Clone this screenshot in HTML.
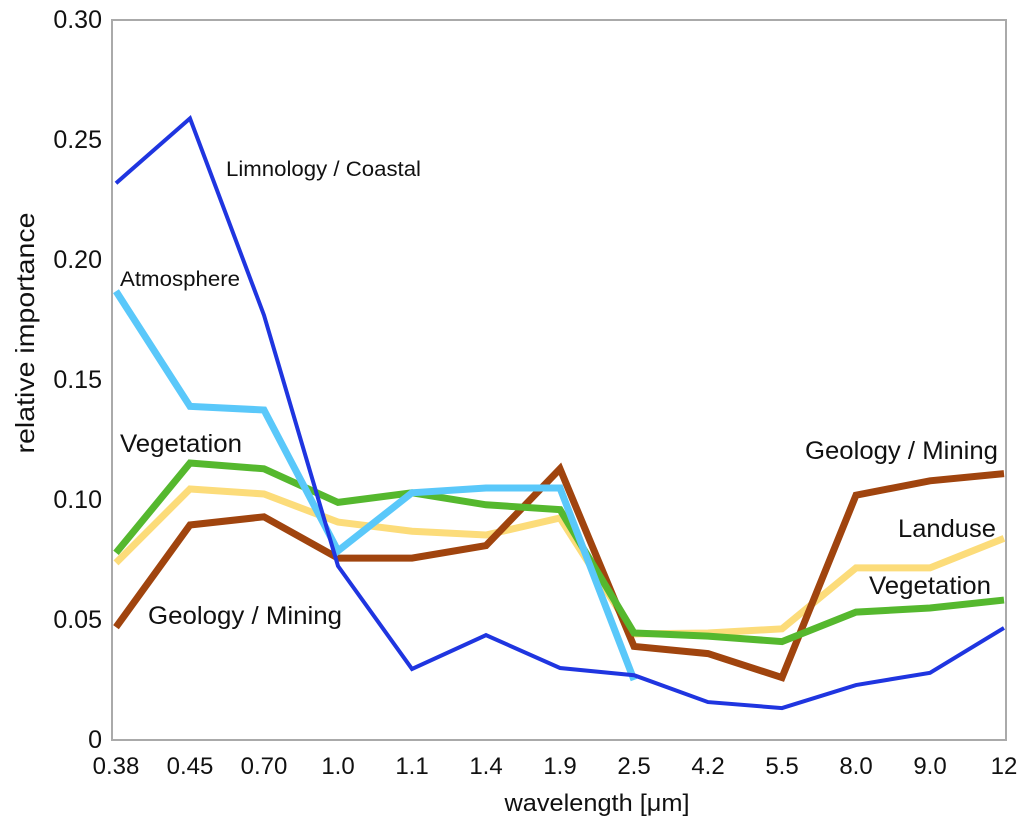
<!DOCTYPE html>
<html><head><meta charset="utf-8"><style>
body{margin:0;background:#fff}
svg text{font-family:"Liberation Sans",sans-serif;fill:#111}
</style></head><body>
<svg id="c" width="1024" height="827" xmlns="http://www.w3.org/2000/svg">
<rect x="112" y="20" width="894" height="720" fill="none" stroke="#aaa" stroke-width="2"/>
<g id="yt"></g>
<g id="xt"></g>
<g id="lines"></g>
<text x="34" y="333" font-size="26" text-anchor="middle" textLength="241" lengthAdjust="spacingAndGlyphs" transform="rotate(-90 34 333)">relative importance</text>
<text x="597" y="811" font-size="24" text-anchor="middle" textLength="185" lengthAdjust="spacingAndGlyphs">wavelength [μm]</text>
<text x="226" y="176" font-size="21" textLength="195" lengthAdjust="spacingAndGlyphs">Limnology / Coastal</text>
<text x="120" y="286" font-size="21" textLength="120" lengthAdjust="spacingAndGlyphs">Atmosphere</text>
<text x="120" y="452" font-size="25" textLength="122" lengthAdjust="spacingAndGlyphs">Vegetation</text>
<text x="148" y="624" font-size="25" textLength="194" lengthAdjust="spacingAndGlyphs">Geology / Mining</text>
<text x="805" y="459" font-size="25" textLength="193" lengthAdjust="spacingAndGlyphs">Geology / Mining</text>
<text x="898" y="537" font-size="25" textLength="98" lengthAdjust="spacingAndGlyphs">Landuse</text>
<text x="869" y="594" font-size="25" textLength="122" lengthAdjust="spacingAndGlyphs">Vegetation</text>
</svg>
<script>
const categories=["0.38","0.45","0.70","1.0","1.1","1.4","1.9","2.5","4.2","5.5","8.0","9.0","12"];
const yTicks=[0,0.05,0.10,0.15,0.20,0.25,0.30];
const yTickLabels=["0","0.05","0.10","0.15","0.20","0.25","0.30"];
const landuse=[0.0738,0.1046,0.1025,0.0908,0.087,0.0854,0.0925,0.0442,0.0446,0.0463,0.0717,0.0717,0.084];
const geology=[0.047,0.0896,0.093,0.0758,0.0758,0.081,0.113,0.039,0.036,0.026,0.102,0.108,0.111];
const vegetation=[0.078,0.1154,0.113,0.099,0.103,0.098,0.096,0.0446,0.0433,0.041,0.0533,0.055,0.0583];
const atmosphere=[0.187,0.139,0.1375,0.0788,0.103,0.105,0.105,0.025];
const limnology=[0.232,0.259,0.177,0.0725,0.0296,0.0437,0.030,0.027,0.0158,0.0133,0.0229,0.028,0.0467];
const NS="http://www.w3.org/2000/svg";
const x=i=>116+i*(1004-116)/(categories.length-1);
const y=v=>740-v*2400;
const yt=document.getElementById('yt'),xt=document.getElementById('xt'),lg=document.getElementById('lines');
yTicks.forEach((v,i)=>{const t=document.createElementNS(NS,'text');


t.setAttribute('x',102);t.setAttribute('y',y(v)+8);t.setAttribute('font-size','25');t.setAttribute('text-anchor','end');t.textContent=yTickLabels[i];yt.appendChild(t);});
categories.forEach((c,i)=>{const t=document.createElementNS(NS,'text');


t.setAttribute('x',x(i));t.setAttribute('y',774);t.setAttribute('font-size','24');t.setAttribute('text-anchor','middle');t.textContent=c;xt.appendChild(t);});
function line(d,col,w,name){const p=document.createElementNS(NS,'polyline');


p.setAttribute('points',d.map((v,i)=>x(i)+','+y(v)).join(' '));p.setAttribute('fill','none');p.setAttribute('stroke',col);p.setAttribute('stroke-width',w);p.setAttribute('stroke-linejoin','miter');lg.appendChild(p);}
line(landuse,'#fcdc7a',7,'landuse-line');
line(geology,'#a0440e',7,'geology-line');
line(vegetation,'#55b82e',7,'vegetation-line');
line(atmosphere,'#5ac8fa',7,'atmosphere-line');
line(limnology,'#1f35e0',4,'limnology-line');
</script>
</body></html>
